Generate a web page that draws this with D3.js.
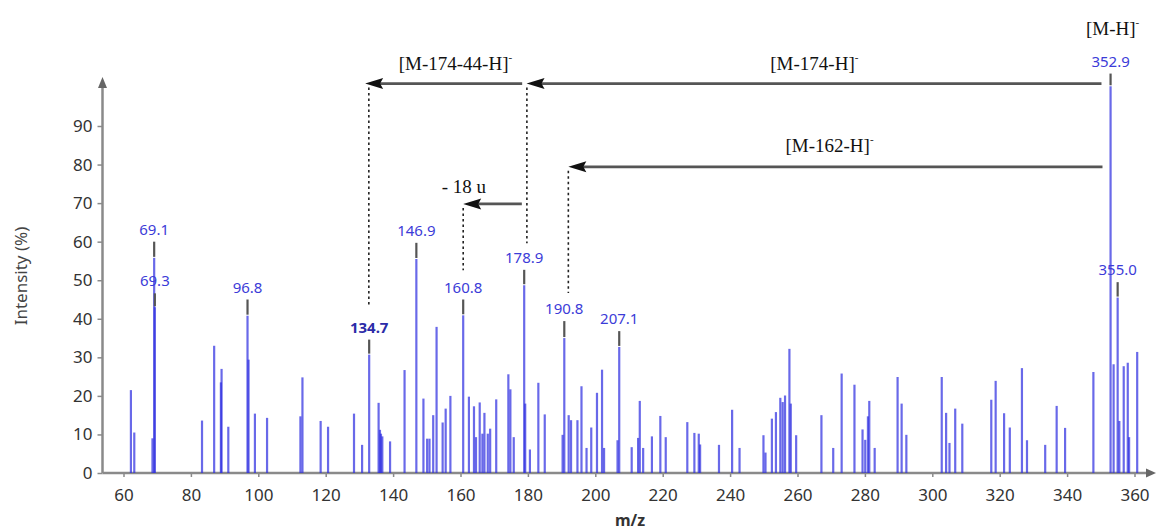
<!DOCTYPE html>
<html>
<head>
<meta charset="utf-8">
<script src="https://cdn.jsdelivr.net/npm/d3@7"></script>
<style>
  html, body { margin: 0; padding: 0; background: #fff; }
  svg { display: block; }
</style>
</head>
<body>
<div id="chart"></div>
<script>
// ================================
// Data
// ================================
const peakMz = [
  62.2, 63.2, 68.6, 69.1, 69.3, 83.3, 86.9, 89.1, 88.9, 91.1,
  96.8, 97.1, 99.0, 102.6, 112.5, 113.1, 118.5, 120.7, 128.4, 130.8,
  132.9, 135.7, 136.1, 136.4, 136.8, 139.1, 143.4, 146.9, 149.0, 150.1,
  150.8, 151.9, 152.9, 154.7, 155.6, 157.0, 160.8, 162.5, 164.0, 164.6,
  165.7, 166.5, 167.1, 168.1, 168.8, 170.6, 174.2, 174.8, 175.8, 178.9,
  179.2, 180.6, 183.1, 185.0, 190.3, 190.8, 192.1, 192.8, 194.7, 195.9,
  197.4, 198.8, 200.5, 202.0, 202.6, 206.6, 207.1, 210.8, 212.7, 213.2,
  214.2, 216.8, 219.3, 220.9, 227.3, 229.4, 230.7, 231.1, 236.7, 240.6,
  242.8, 249.9, 250.5, 252.4, 253.6, 254.9, 255.6, 256.3, 257.6, 258.0,
  259.6, 267.1, 270.6, 273.1, 276.9, 279.3, 280.1, 280.9, 281.3, 282.9,
  289.7, 290.9, 292.3, 302.8, 304.1, 305.1, 306.8, 308.9, 317.5, 318.8,
  321.3, 323.0, 326.6, 328.1, 333.5, 336.9, 339.4, 347.8, 352.9, 353.8,
  355.0, 355.5, 356.8, 358.0, 358.4, 360.8
];
const peakIntensity = [
  21.5, 10.5, 9.0, 55.8, 43.0, 13.6, 33.0, 27.0, 23.5, 12.0,
  40.8, 29.4, 15.4, 14.3, 14.7, 24.8, 13.5, 12.0, 15.4, 7.3,
  30.7, 18.2, 11.2, 10.2, 9.5, 8.2, 26.7, 55.5, 19.3, 8.9,
  8.9, 15.0, 37.9, 13.1, 16.7, 20.0, 40.9, 19.8, 17.3, 9.3,
  18.3, 10.2, 15.6, 10.2, 11.5, 19.1, 25.6, 21.7, 9.3, 48.7,
  18.0, 6.1, 23.4, 15.2, 9.9, 35.0, 15.0, 13.7, 13.7, 22.5,
  6.5, 11.8, 20.8, 26.8, 6.5, 8.5, 32.7, 6.7, 9.1, 18.7,
  6.5, 9.5, 14.8, 9.3, 13.2, 10.4, 10.2, 7.4, 7.3, 16.4,
  6.5, 9.8, 5.3, 14.1, 15.8, 19.5, 18.4, 20.1, 32.2, 18.0,
  9.8, 15.0, 6.5, 25.8, 22.9, 11.3, 8.6, 14.7, 18.7, 6.5,
  24.9, 18.0, 9.9, 24.9, 15.6, 7.8, 16.7, 12.8, 19.0, 23.9,
  15.5, 11.8, 27.2, 8.5, 7.3, 17.4, 11.7, 26.2, 100.3, 28.2,
  45.5, 13.5, 27.7, 28.6, 9.3, 31.4
];

// Labelled peaks: position on the axis, bar top, leader top, printed text
const labelMz = [69.1, 69.3, 96.8, 132.9, 146.9, 160.8, 178.9, 190.8, 207.1, 352.9, 355.0];
const labelBase = [55.8, 43.0, 40.8, 30.7, 55.5, 40.9, 48.7, 35.0, 32.7, 100.3, 45.5];
const labelTop = [60.0, 46.6, 45.0, 34.6, 59.7, 45.0, 52.7, 39.4, 36.8, 103.6, 49.5];
const labelText = ['69.1', '69.3', '96.8', '134.7', '146.9', '160.8', '178.9', '190.8', '207.1', '352.9', '355.0'];

// Neutral-loss arrows (m/z from -> to, drawn at an intensity level)
const arrowFrom = [350.2, 178.3, 350.5, 178.2];
const arrowTo = [179.6, 131.7, 192.0, 160.8];
const arrowLevel = [101.0, 101.0, 79.4, 69.8];
const arrowText = ['[M-174-H]', '[M-174-44-H]', '[M-162-H]', '- 18 u'];
const arrowTextMz = [265.0, 158.5, 269.5, 161.0];
const arrowTextLevel = [104.4, 104.4, 83.2, 72.6];
const arrowCharge = [true, true, true, false];

// Dotted drop lines
const dropMz = [132.8, 179.7, 160.8, 192.0];
const dropTop = [101.0, 101.0, 69.8, 79.4];
const dropBottom = [43.6, 59.6, 52.6, 46.7];

const xTicks = d3.range(60, 361, 20);
const yTicks = d3.range(0, 91, 10);

// ================================
// Layout
// ================================
const W = 1157, H = 532;
const svg = d3.select('#chart').append('svg')
  .attr('width', W)
  .attr('height', H);

const x = d3.scaleLinear().domain([60, 360]).range([123.5, 1134.5]);
const y = d3.scaleLinear().domain([0, 90]).range([473, 126]);

const axisColor = '#8a8a8a';
const tickFont = '"Noto Sans", "Open Sans", sans-serif';
const serif = '"Liberation Serif", "DejaVu Serif", serif';

// ================================
// Axes
// ================================
const xAxis = svg.append('g')
  .attr('transform', `translate(0,${y(0)})`)
  .call(d3.axisBottom(x).tickValues(xTicks).tickSize(4).tickPadding(12).tickFormat(d3.format('d')));
xAxis.select('.domain').remove();
xAxis.selectAll('line').attr('stroke', axisColor).attr('stroke-width', 1.5);
xAxis.selectAll('text')
  .attr('fill', '#333')
  .attr('font-family', tickFont)
  .attr('font-size', '17px');

const yAxis = svg.append('g')
  .attr('transform', `translate(102.5,0)`)
  .call(d3.axisLeft(y).tickValues(yTicks).tickSize(5).tickPadding(5));
yAxis.select('.domain').remove();
yAxis.selectAll('line').attr('stroke', axisColor).attr('stroke-width', 1.5);
yAxis.selectAll('text')
  .attr('fill', '#333')
  .attr('font-family', tickFont)
  .attr('font-size', '17px');

// axis lines with arrow tips
svg.append('line')
  .attr('x1', 102.5).attr('x2', 1148)
  .attr('y1', y(0)).attr('y2', y(0))
  .attr('stroke', axisColor).attr('stroke-width', 2.5);
svg.append('path')
  .attr('d', `M1156,${y(0)} L1146,${y(0) - 4.5} L1146,${y(0) + 4.5} Z`)
  .attr('fill', '#666');

svg.append('line')
  .attr('x1', 102.5).attr('x2', 102.5)
  .attr('y1', y(0)).attr('y2', 86)
  .attr('stroke', axisColor).attr('stroke-width', 2.5);
svg.append('path')
  .attr('d', `M102.5,77 L98,88 L107,88 Z`)
  .attr('fill', '#666');

// axis titles
svg.append('text')
  .attr('transform', 'rotate(-90)')
  .attr('x', -276)
  .attr('y', 27)
  .attr('text-anchor', 'middle')
  .attr('fill', '#444')
  .attr('font-family', tickFont)
  .attr('font-size', '17px')
  .text('Intensity (%)');

svg.append('text')
  .attr('x', 630)
  .attr('y', 526)
  .attr('text-anchor', 'middle')
  .attr('fill', '#333')
  .attr('font-family', tickFont)
  .attr('font-size', '16px')
  .attr('font-weight', 'bold')
  .text('m/z');

// ================================
// Peaks
// ================================
const peaks = peakMz.map((mz, i) => ({ mz, value: peakIntensity[i] }));

svg.append('g')
  .selectAll('line')
  .data(peaks)
  .join('line')
  .attr('x1', d => x(d.mz))
  .attr('x2', d => x(d.mz))
  .attr('y1', y(0))
  .attr('y2', d => y(d.value))
  .attr('stroke', '#2f2fe0')
  .attr('stroke-opacity', 0.72)
  .attr('stroke-width', 2.2);

// leaders + peak labels
const labels = labelMz.map((mz, i) => ({
  mz, base: labelBase[i], top: labelTop[i], text: labelText[i]
}));

svg.append('g')
  .selectAll('line')
  .data(labels)
  .join('line')
  .attr('x1', d => x(d.mz))
  .attr('x2', d => x(d.mz))
  .attr('y1', d => y(d.base) - 1)
  .attr('y2', d => y(d.top))
  .attr('stroke', '#555')
  .attr('stroke-width', 2.2);

svg.append('g')
  .selectAll('text')
  .data(labels)
  .join('text')
  .attr('x', d => x(d.mz))
  .attr('y', d => y(d.top) - 7)
  .attr('text-anchor', 'middle')
  .attr('fill', d => d.text === '134.7' ? '#2b2ba8' : '#3c3cd8')
  .attr('font-family', tickFont)
  .attr('font-size', '15px')
  .attr('font-weight', d => d.text === '134.7' ? 'bold' : 'normal')
  .text(d => d.text);

// ================================
// Annotations
// ================================
const drops = dropMz.map((mz, i) => ({ mz, top: dropTop[i], bottom: dropBottom[i] }));

svg.append('g')
  .selectAll('line')
  .data(drops)
  .join('line')
  .attr('x1', d => x(d.mz))
  .attr('x2', d => x(d.mz))
  .attr('y1', d => y(d.top) + 4)
  .attr('y2', d => y(d.bottom))
  .attr('stroke', '#222')
  .attr('stroke-width', 1.6)
  .attr('stroke-dasharray', '2.5,3');

const arrows = arrowFrom.map((from, i) => ({
  from, to: arrowTo[i], level: arrowLevel[i],
  text: arrowText[i], textMz: arrowTextMz[i], textLevel: arrowTextLevel[i],
  charge: arrowCharge[i]
}));

const arrowG = svg.append('g');
arrows.forEach(a => {
  const x0 = x(a.from), x1 = x(a.to), yy = y(a.level);
  arrowG.append('line')
    .attr('x1', x0).attr('x2', x1 + 12)
    .attr('y1', yy).attr('y2', yy)
    .attr('stroke', '#555')
    .attr('stroke-width', 2.6);
  arrowG.append('path')
    .attr('d', `M${x1},${yy} L${x1 + 18},${yy - 5.5} L${x1 + 15},${yy} L${x1 + 18},${yy + 5.5} Z`)
    .attr('fill', '#111');

  const t = arrowG.append('text')
    .attr('x', x(a.textMz))
    .attr('y', y(a.textLevel))
    .attr('text-anchor', 'middle')
    .attr('fill', '#111')
    .attr('font-family', serif)
    .attr('font-size', '19px')
    .text(a.text);
  if (a.charge) {
    t.append('tspan')
      .attr('dy', -9)
      .attr('font-size', '11px')
      .text('-');
  }
});

// precursor ion label
const mh = svg.append('text')
  .attr('x', x(352.9) + 2)
  .attr('y', y(113.6))
  .attr('text-anchor', 'middle')
  .attr('fill', '#111')
  .attr('font-family', serif)
  .attr('font-size', '19px')
  .text('[M-H]');
mh.append('tspan')
  .attr('dy', -9)
  .attr('font-size', '11px')
  .text('-');
</script>
</body>
</html>
